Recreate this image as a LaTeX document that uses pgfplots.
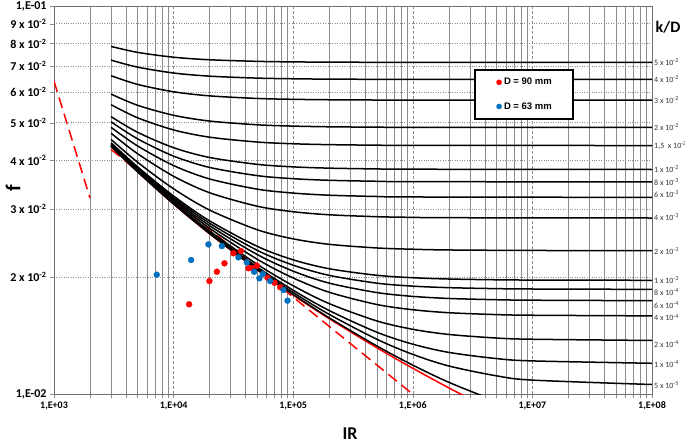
\documentclass[border=0pt]{standalone}
\usepackage{pgfplots}
\pgfplotsset{compat=1.18}
\usepackage{fontspec}
\setmainfont{Carlito}
\newfontfamily\legfont{Liberation Sans}
\definecolor{ptred}{HTML}{FF0000}
\definecolor{ptblue}{HTML}{0070C0}
\definecolor{gridgray}{HTML}{8C8C8C}
\pgfplotsset{curve/.style={black, line width=1.5pt, smooth, tension=0.5, no markers}}
\tikzset{rlab/.style={anchor=west, font=\fontsize{8}{9}\selectfont, inner sep=1pt, xshift=1pt, text=black!80}}
\begin{document}
\begin{tikzpicture}
\begin{axis}[
  at={(0pt,0pt)}, anchor=south west,
  width=598pt, height=388pt, scale only axis,
  xmode=log, ymode=log,
  xmin=1e3, xmax=1e8, ymin=0.01, ymax=0.1,
  clip mode=individual,
  xtick={1e3,1e4,1e5,1e6,1e7,1e8},
  xticklabels={{1,E+03},{1,E+04},{1,E+05},{1,E+06},{1,E+07},{1,E+08}},
  minor xtick={2e3,3e3,4e3,5e3,6e3,7e3,8e3,9e3,2e4,3e4,4e4,5e4,6e4,7e4,8e4,9e4,2e5,3e5,4e5,5e5,6e5,7e5,8e5,9e5,2e6,3e6,4e6,5e6,6e6,7e6,8e6,9e6,2e7,3e7,4e7,5e7,6e7,7e7,8e7,9e7},
  ytick={0.01,0.02,0.03,0.04,0.05,0.06,0.07,0.08,0.09,0.1},
  yticklabels={{1,E-02},{2 x 10\textsuperscript{-2}},{3 x 10\textsuperscript{-2}},{4 x 10\textsuperscript{-2}},{5 x 10\textsuperscript{-2}},{6 x 10\textsuperscript{-2}},{7 x 10\textsuperscript{-2}},{8 x 10\textsuperscript{-2}},{9 x 10\textsuperscript{-2}},{1,E-01}},
  yminorticks=false,
  xmajorgrids, xminorgrids, ymajorgrids,
  major x grid style={gridgray, dash pattern=on 3pt off 2pt, line width=0.5pt},
  minor x grid style={gridgray, line width=0.5pt},
  major y grid style={gridgray, dotted, line width=0.7pt},
  axis line style={gridgray!80!black, line width=0.8pt},
  tick align=outside, xtick pos=left, ytick pos=left,
  major tick length=4pt, minor tick length=4pt,
  tick style={gridgray, line width=0.5pt},
  xticklabel style={font=\bfseries\fontsize{10}{12}\selectfont},
  yticklabel style={font=\bfseries\fontsize{12}{14}\selectfont},
  xlabel={IR}, ylabel={f},
  xlabel style={at={(rel axis cs:0.495,-0.103)}, anchor=center, font=\bfseries\fontsize{18}{20}\selectfont},
  ylabel style={at={(rel axis cs:-0.0686,0.531)}, anchor=center, font=\bfseries\fontsize{21}{23}\selectfont},
  legend style={at={(rel axis cs:0.702,0.838)}, anchor=north west, draw=black, line width=1.8pt,
    inner xsep=20.5pt, inner ysep=7.5pt, row sep=14pt,
    nodes={inner xsep=1pt, inner ysep=1pt},
    font=\legfont\bfseries\fontsize{9.5}{11}\selectfont},
  legend image code/.code={\path (-3pt,0pt) (3pt,0pt); \draw[#1, mark size=2.6pt] plot coordinates {(0pt,0pt)};},
]
% laminar and Blasius
\addplot[ptred, line width=1.5pt, dash pattern=on 11pt off 6pt, forget plot] coordinates {(1000,0.064) (2000,0.032)};
\addplot[ptred, line width=1.5pt, dash pattern=on 11pt off 6pt, forget plot] coordinates {(3000,0.04270) (1000000,0.00999)};
% smooth pipe
\addplot[ptred, line width=1.5pt, smooth, tension=0.5, forget plot] coordinates {(3000,0.04352) (5000,0.03739) (10000,0.03088) (20000,0.02588) (50000,0.02089) (100000,0.01799) (200000,0.01564) (500000,0.01316) (1000000,0.01165) (2000000,0.01037) (3000000,0.009722)};
% Colebrook curves
\addplot[curve, forget plot] coordinates {(3000,0.07867) (5000,0.07595) (10000,0.07380) (20000,0.07269) (50000,0.07201) (100000,0.07178) (200000,0.07167) (500000,0.07160) (1000000,0.07157) (100000000,0.07155)};
\addplot[curve, forget plot] coordinates {(3000,0.07254) (5000,0.06957) (10000,0.06719) (20000,0.06595) (50000,0.06519) (100000,0.06493) (200000,0.06480) (1000000,0.06470) (100000000,0.06467)};
\addplot[curve, forget plot] coordinates {(3000,0.06612) (5000,0.06280) (10000,0.06011) (20000,0.05867) (50000,0.05778) (100000,0.05748) (200000,0.05733) (500000,0.05724) (1000000,0.05720) (100000000,0.05717)};
\addplot[curve, forget plot] coordinates {(3000,0.05929) (5000,0.05548) (10000,0.05228) (20000,0.05052) (50000,0.04941) (100000,0.04903) (200000,0.04883) (500000,0.04872) (1000000,0.04868) (100000000,0.04864)};
\addplot[curve, forget plot] coordinates {(3000,0.05567) (5000,0.05151) (10000,0.04793) (20000,0.04591) (50000,0.04461) (100000,0.04415) (200000,0.04392) (500000,0.04378) (1000000,0.04374) (100000000,0.04369)};
\addplot[curve, forget plot] coordinates {(3000,0.05187) (5000,0.04726) (10000,0.04313) (20000,0.04070) (50000,0.03908) (100000,0.03850) (200000,0.03821) (500000,0.03803) (1000000,0.03797) (100000000,0.03790)};
\addplot[curve, forget plot] coordinates {(3000,0.05029) (5000,0.04546) (10000,0.04103) (20000,0.03837) (50000,0.03655) (100000,0.03589) (200000,0.03555) (500000,0.03534) (1000000,0.03527) (100000000,0.03520)};
\addplot[curve, forget plot] coordinates {(3000,0.04867) (5000,0.04358) (10000,0.03880) (20000,0.03584) (50000,0.03373) (100000,0.03295) (200000,0.03254) (500000,0.03229) (1000000,0.03220) (100000000,0.03212)};
\addplot[curve, forget plot] coordinates {(3000,0.04700) (5000,0.04162) (10000,0.03641) (20000,0.03302) (50000,0.03048) (100000,0.02950) (200000,0.02897) (500000,0.02864) (1000000,0.02853) (2000000,0.02847) (100000000,0.02842)};
\addplot[curve, forget plot] coordinates {(3000,0.04529) (5000,0.03957) (10000,0.03379) (20000,0.02979) (50000,0.02651) (100000,0.02511) (200000,0.02431) (500000,0.02379) (1000000,0.02361) (2000000,0.02351) (10000000,0.02344) (100000000,0.02342)};
\addplot[curve, forget plot] coordinates {(3000,0.04441) (5000,0.03850) (10000,0.03238) (20000,0.02794) (50000,0.02402) (100000,0.02217) (200000,0.02103) (500000,0.02023) (1000000,0.01994) (2000000,0.01979) (5000000,0.01970) (10000000,0.01967) (100000000,0.01964)};
\addplot[curve, forget plot] coordinates {(3000,0.04423) (5000,0.03828) (10000,0.03209) (20000,0.02755) (50000,0.02346) (100000,0.02148) (200000,0.02022) (500000,0.01931) (1000000,0.01897) (2000000,0.01880) (5000000,0.01869) (10000000,0.01865) (100000000,0.01861)};
\addplot[curve, forget plot] coordinates {(3000,0.04405) (5000,0.03806) (10000,0.03180) (20000,0.02715) (50000,0.02288) (100000,0.02073) (200000,0.01931) (500000,0.01826) (1000000,0.01785) (2000000,0.01763) (5000000,0.01750) (10000000,0.01745) (100000000,0.01740)};
\addplot[curve, forget plot] coordinates {(3000,0.04387) (5000,0.03784) (10000,0.03149) (20000,0.02674) (50000,0.02225) (100000,0.01991) (200000,0.01829) (500000,0.01701) (1000000,0.01649) (2000000,0.01620) (5000000,0.01602) (10000000,0.01596) (100000000,0.01590)};
\addplot[curve, forget plot] coordinates {(3000,0.04370) (5000,0.03763) (10000,0.03119) (20000,0.02631) (50000,0.02159) (100000,0.01901) (200000,0.01710) (500000,0.01543) (1000000,0.01468) (2000000,0.01424) (5000000,0.01394) (10000000,0.01384) (100000000,0.01374)};
\addplot[curve, forget plot] coordinates {(3000,0.04361) (5000,0.03750) (10000,0.03104) (20000,0.02610) (50000,0.02125) (100000,0.01851) (200000,0.01641) (500000,0.01443) (1000000,0.01344) (2000000,0.01280) (5000000,0.01234) (10000000,0.01217) (100000000,0.01200)};
\addplot[curve, forget plot] coordinates {(3000,0.04356) (5000,0.03745) (10000,0.03095) (20000,0.02599) (50000,0.02107) (100000,0.01826) (200000,0.01604) (500000,0.01384) (1000000,0.01265) (2000000,0.01181) (5000000,0.01114) (10000000,0.01086) (100000000,0.01058)};
\addplot[curve, forget plot] coordinates {(3000,0.04352) (5000,0.03740) (10000,0.03090) (20000,0.02591) (50000,0.02093) (100000,0.01804) (200000,0.01572) (500000,0.01330) (1000000,0.01187) (2000000,0.01072) (5000000,0.009589) (10000000,0.00899)};
% measurements
\addplot[only marks, mark=*, mark size=3pt, mark options={fill=ptred, draw=ptred, line width=0.3pt}, color=ptred] coordinates {(13480,0.01703) (19930,0.01955) (22990,0.02066) (26610,0.02172) (31650,0.02305) (36500,0.02336) (42250,0.02109) (45110,0.02109) (49690,0.02142) (60930,0.01994) (69740,0.01935) (77840,0.01884)};
\addlegendentry{D = 90 mm}
\addplot[only marks, mark=*, mark size=3pt, mark options={fill=ptblue, draw=ptblue, line width=0.3pt}, color=ptblue] coordinates {(7230,0.02030) (14010,0.02215) (19550,0.02430) (25310,0.02406) (34850,0.02250) (40970,0.02184) (47170,0.02066) (52240,0.01987) (55780,0.02039) (64190,0.01955) (82950,0.01854) (89600,0.01740)};
\addlegendentry{D = 63 mm}
% right-hand k/D labels
\node[rlab] at (axis cs:1e8,0.07185) {5 x 10\textsuperscript{-2}};
\node[rlab] at (axis cs:1e8,0.06474) {4 x 10\textsuperscript{-2}};
\node[rlab] at (axis cs:1e8,0.05726) {3 x 10\textsuperscript{-2}};
\node[rlab] at (axis cs:1e8,0.04886) {2 x 10\textsuperscript{-2}};
\node[rlab] at (axis cs:1e8,0.04375) {1,5 \ x 10\textsuperscript{-2}};
\node[rlab] at (axis cs:1e8,0.03802) {1 x 10\textsuperscript{-2}};
\node[rlab] at (axis cs:1e8,0.03518) {8 x 10\textsuperscript{-3}};
\node[rlab] at (axis cs:1e8,0.03270) {6 x 10\textsuperscript{-3}};
\node[rlab] at (axis cs:1e8,0.02863) {4 x 10\textsuperscript{-3}};
\node[rlab] at (axis cs:1e8,0.02341) {2 x 10\textsuperscript{-3}};
\node[rlab] at (axis cs:1e8,0.01967) {1 x 10\textsuperscript{-3}};
\node[rlab] at (axis cs:1e8,0.01835) {8 x 10\textsuperscript{-4}};
\node[rlab] at (axis cs:1e8,0.01696) {6 x 10\textsuperscript{-4}};
\node[rlab] at (axis cs:1e8,0.01573) {4 x 10\textsuperscript{-4}};
\node[rlab] at (axis cs:1e8,0.01345) {2 x 10\textsuperscript{-4}};
\node[rlab] at (axis cs:1e8,0.01193) {1 x 10\textsuperscript{-4}};
\node[rlab] at (axis cs:1e8,0.01055) {5 x 10\textsuperscript{-5}};
\node[font=\bfseries\fontsize{16}{18}\selectfont] at (rel axis cs:1.0268,0.946) {k/D};
\end{axis}
\pgfresetboundingbox
\path[use as bounding box] (-54pt,-49pt) rectangle (631pt,394pt);
\end{tikzpicture}
\end{document}
